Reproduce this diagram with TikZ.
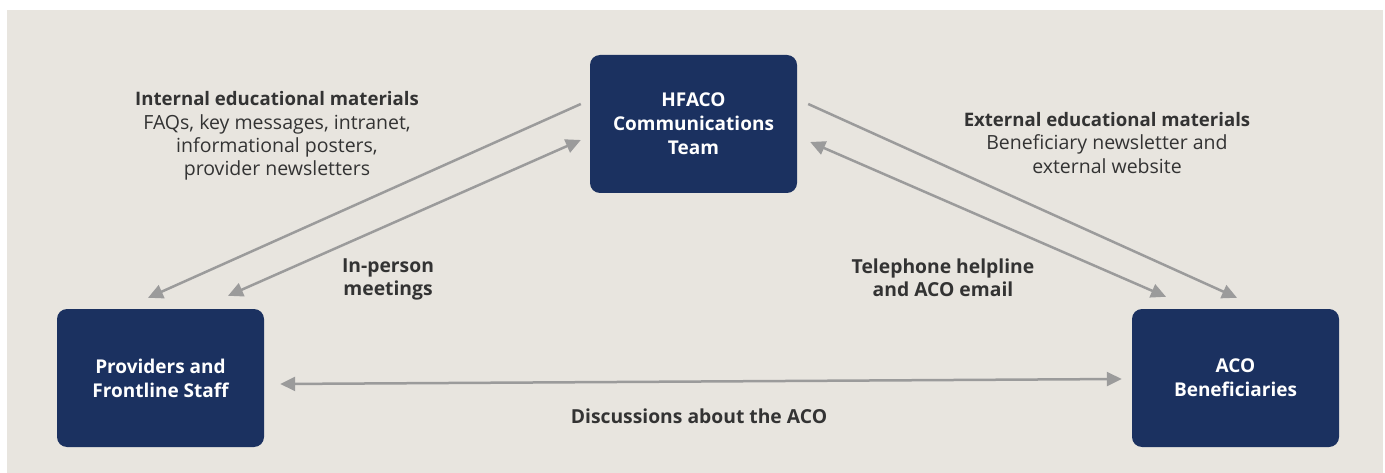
\documentclass[tikz,border=0pt]{standalone}
\usepackage{fontspec}
\setmainfont{Open Sans}
\usetikzlibrary{arrows.meta}

\definecolor{navy}{HTML}{1B3160}
\definecolor{paper}{HTML}{E8E5DF}
\definecolor{linkgrey}{HTML}{9B9B9B}
\definecolor{ink}{HTML}{333333}

% bold first line of a label block
\newcommand{\lblhead}[1]{{\fontsize{18.6}{23.2}\selectfont\bfseries #1}}

\begin{document}
\begin{tikzpicture}[x=1pt,y=-1pt,
  box/.style={fill=navy,rounded corners=10pt,minimum width=207pt,minimum height=138pt,
    text=white,align=center,font=\fontsize{19}{24}\selectfont\bfseries},
  lbl/.style={text=ink,align=center,font=\fontsize{19.5}{23.2}\selectfont},
  head/.style={lbl,font=\fontsize{19.3}{23}\selectfont\bfseries},
  link/.style={draw=linkgrey,line width=2.5pt,-{Triangle[length=15pt,width=14pt]}},
  both/.style={link,{Triangle[length=15pt,width=14pt]}-{Triangle[length=15pt,width=14pt]}}]
\useasboundingbox (0,0) rectangle (1385,473);
\fill[white] (0,0) rectangle (1385,473);
\fill[paper] (7,10) rectangle (1383,473);

\node[box] (team) at (693.5,124) {HFACO\\Communications\\Team};
\node[box] (prov) at (160.5,378) {Providers and\\Frontline Staff};
\node[box] (aco) at (1235.5,378) {ACO\\Beneficiaries};

\draw[link] ([shift={(-9,-20)}]team.west) -- ([shift={(-12.5,-11)}]prov.north);
\draw[both] ([shift={(67.5,-13)}]prov.north) -- ([shift={(-9,16)}]team.west);
\draw[link] ([shift={(11,-20)}]team.east) -- ([shift={(1.5,-11)}]aco.north);
\draw[both] ([shift={(13,18)}]team.east) -- ([shift={(-69.5,-12)}]aco.north);
\draw[both] ([shift={(16,6)}]prov.east) -- ([shift={(-10,1)}]aco.west);

\node[lbl] (internal) at (277,136) {\lblhead{Internal educational materials}\\FAQs, key messages, intranet,\\informational posters,\\provider newsletters};
\node[lbl] (external) at (1107,143) {\lblhead{External educational materials}\\Beneficiary newsletter and\\external website};
\node[head] (meet) at (388,279) {In-person\\meetings};
\node[head] (phone) at (943,278) {Telephone helpline\\and ACO email};
\node[head] (talk) at (699,416) {Discussions about the ACO};
\end{tikzpicture}
\end{document}
